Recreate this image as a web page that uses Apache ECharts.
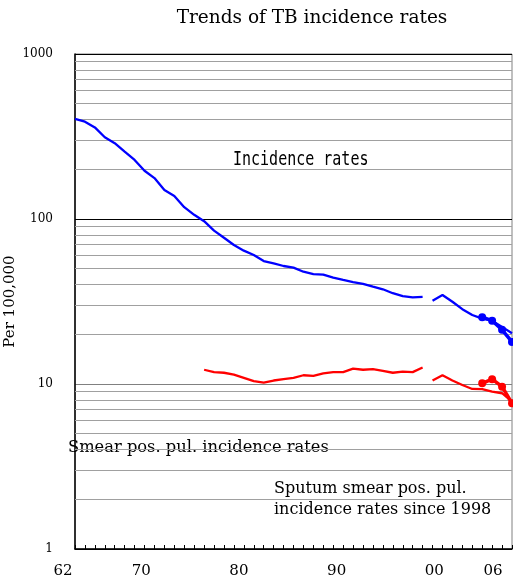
<!DOCTYPE html>
<html><head><meta charset="utf-8">
<script src="https://cdn.jsdelivr.net/npm/echarts@6/dist/echarts.min.js"></script>
<style>html,body{margin:0;padding:0;background:#fff}#c{width:513px;height:583px}</style>
</head><body><div id="c"></div>
<script>
// Incidence rates (old definition) 1962-1997
const incYears = [1962,1963,1964,1965,1966,1967,1968,1969,1970,1971,1972,1973,1974,1975,1976,1977,1978,1979,1980,1981,1982,1983,1984,1985,1986,1987,1988,1989,1990,1991,1992,1993,1994,1995,1996,1997];
const incValues = [404,389,359,313,288,256,228,196,177,150,138,118,106,97,85,77,69.6,64.3,60.5,55.6,53.9,51.9,50.7,47.9,46.4,46,44.1,42.7,41.5,40.4,38.9,37.5,35.5,34.1,33.5,33.7];
// Smear positive pulmonary incidence 1975-1997
const smearYears = [1975,1976,1977,1978,1979,1980,1981,1982,1983,1984,1985,1986,1987,1988,1989,1990,1991,1992,1993,1994,1995,1996,1997];
const smearValues = [12.2,11.8,11.7,11.4,10.9,10.4,10.2,10.5,10.7,10.9,11.3,11.2,11.6,11.8,11.8,12.4,12.2,12.3,12.0,11.7,11.9,11.8,12.6];
// Since 1998 (new definition)
const newYears = [1998,1999,2000,2001,2002,2003,2004,2005,2006];
const newIncValues = [32.0,34.6,31.5,28.4,26.2,24.9,24.2,22.2,20.3];
const newSmearValues = [10.5,11.3,10.5,9.86,9.33,9.3,8.98,8.79,7.81];
// Marked series 2003-2006
const markYears = [2003,2004,2005,2006];
const markIncValues = [25.4,24.2,21.3,18.0];
const markSmearValues = [10.1,10.7,9.63,7.64];
// Axis labels
const xLabelYears = [1962,1970,1980,1990,2000,2006];
const minorGrid = [2,3,4,5,6,7,8,9,20,30,40,50,60,70,80,90,200,300,400,500,600,700,800,900];

const pair = (xs, ys) => xs.map((x, i) => [x, ys[i]]);
const serif = 'DejaVu Serif';
const BLUE = '#0000ff', RED = '#ff0000';

const chart = echarts.init(document.getElementById('c'), null, {renderer: 'canvas'});
chart.setOption({
  animation: false,
  backgroundColor: '#fff',
  title: {
    text: 'Trends of TB incidence rates', left: 307, top: 4, textAlign: 'center',
    textStyle: {fontFamily: serif, fontSize: 18.5, fontWeight: 'normal', color: '#000'}
  },
  grid: [
    {left: 75, right: 1, top: 54, bottom: 34, show: true, borderColor: '#808080', borderWidth: 1, containLabel: false, outerBoundsMode: 'none'},
    {left: 63, right: 20, top: 54, bottom: 34, show: false, containLabel: false, outerBoundsMode: 'none'}
  ],
  xAxis: [
    {
      type: 'value', gridIndex: 0, min: 1962, max: 2006, interval: 1,
      axisLine: {lineStyle: {color: '#000', width: 1.5}},
      axisTick: {inside: true, length: 4, lineStyle: {color: '#000'}},
      axisLabel: {show: false}, splitLine: {show: false}
    },
    {
      type: 'value', gridIndex: 1, min: 1962, max: 2006,
      axisLine: {show: false}, axisTick: {show: false}, splitLine: {show: false},
      axisLabel: {
        customValues: xLabelYears, margin: 15,
        fontFamily: serif, fontSize: 15, color: '#000',
        formatter: v => String(v % 100).padStart(2, '0')
      }
    }
  ],
  yAxis: [
    {
      type: 'log', logBase: 10, min: 1, max: 1000, gridIndex: 0,
      name: 'Per 100,000', nameLocation: 'middle', nameRotate: 90, nameGap: 57, nameMoveOverlap: false,
      nameTextStyle: {fontFamily: serif, fontSize: 15, color: '#000'},
      axisLine: {show: true, lineStyle: {color: '#000', width: 1.5}},
      axisTick: {show: false},
      axisLabel: {margin: 22, fontFamily: serif, fontSize: 12, color: '#000', formatter: v => String(Math.round(v))},
      splitLine: {show: true, lineStyle: {color: ['#000', '#808080', '#000', '#000'], width: 1}}
    },
    {type: 'value', gridIndex: 1, show: false}
  ],
  graphic: [
    {type: 'text', left: 233, top: 151, scaleY: 1.25,
      style: {text: 'Incidence rates', font: '15px "DejaVu Sans Mono"', fill: '#000'}},
    {type: 'text', left: 68, top: 440,
      style: {text: 'Smear pos. pul. incidence rates', font: '16.3px "DejaVu Serif"', fill: '#000'}},
    {type: 'text', left: 274, top: 478,
      style: {text: 'Sputum smear pos. pul.\nincidence rates since 1998', font: '16px "DejaVu Serif"', fill: '#000', lineHeight: 21}}
  ],
  series: [
    {
      type: 'line', name: 'grid', data: [], silent: true,
      markLine: {
        silent: true, symbol: ['none', 'none'], label: {show: false},
        lineStyle: {color: '#a0a0a0', width: 1, type: 'solid'},
        data: minorGrid.map(v => ({yAxis: v}))
      }
    },
    {type: 'line', data: pair(incYears, incValues), showSymbol: false, lineStyle: {color: BLUE, width: 2.3}, itemStyle: {color: BLUE}, z: 5},
    {type: 'line', data: pair(smearYears, smearValues), showSymbol: false, lineStyle: {color: RED, width: 2.3}, itemStyle: {color: RED}, z: 5},
    {type: 'line', data: pair(newYears, newIncValues), showSymbol: false, lineStyle: {color: BLUE, width: 2.3}, itemStyle: {color: BLUE}, z: 5},
    {type: 'line', data: pair(newYears, newSmearValues), showSymbol: false, lineStyle: {color: RED, width: 2.3}, itemStyle: {color: RED}, z: 5},
    {type: 'line', data: pair(markYears, markIncValues), symbol: 'circle', symbolSize: 8, lineStyle: {color: BLUE, width: 3.5}, itemStyle: {color: BLUE}, z: 6},
    {type: 'line', data: pair(markYears, markSmearValues), symbol: 'circle', symbolSize: 8, lineStyle: {color: RED, width: 3.5}, itemStyle: {color: RED}, z: 6}
  ]
});
</script>
</body></html>
